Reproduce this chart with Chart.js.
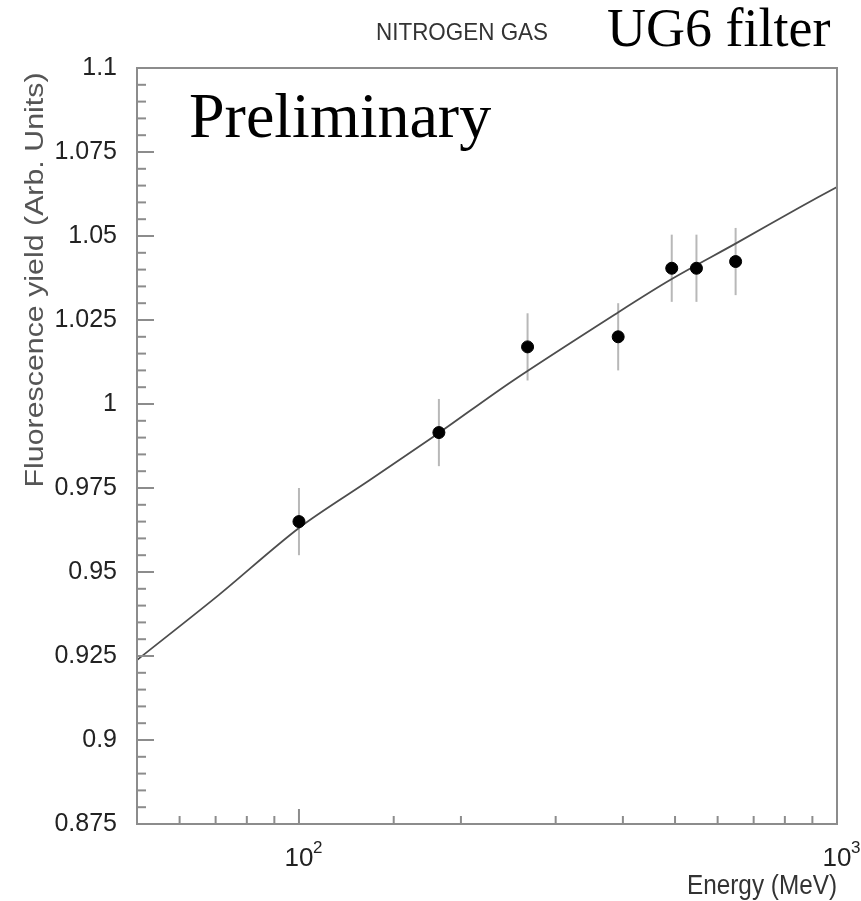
<!DOCTYPE html>
<html>
<head>
<meta charset="utf-8">
<title>Nitrogen gas fluorescence yield</title>
<script src="https://cdn.jsdelivr.net/npm/chart.js@4/dist/chart.umd.min.js"></script>
<style>
  html, body { margin: 0; padding: 0; background: #ffffff; }
  canvas { display: block; }
</style>
</head>
<body>
<canvas id="yieldChart" width="861" height="901"></canvas>
<script>
// ----------------- Data ---------------------------------------------------//
const energies  = [100, 182, 266, 392, 493, 548, 648];                    // MeV
const yields    = [0.965, 0.9915, 1.017, 1.020, 1.0404, 1.0404, 1.0424]; // Arb. units
const yieldErrs = [0.01, 0.01, 0.01, 0.01, 0.01, 0.01, 0.01];

// fitted curve, sampled along the line
const curveEnergies = [50, 71, 100, 135, 182, 249, 393, 493, 649, 850, 1000];
const curveYields   = [0.9238, 0.9432, 0.9631, 0.9772, 0.9914, 1.0068, 1.0274, 1.0372, 1.0478, 1.0584, 1.0646];

const xMajorTicks = [100, 1000];
const xTickLabels = ['2', '3'];   // exponents for 10^n
const yMin = 0.875, yMax = 1.1, yStep = 0.005, yMajorStep = 0.025;

const frameColor = '#8c8c8c';

// ----------------- Helpers -------------------------------------------------//
function isYMajor(v) {
  return Math.round(v * 1000) % Math.round(yMajorStep * 1000) === 0;
}

// draw text squeezed / stretched to a given width
function fitText(ctx, text, x, y, width, align) {
  const w = ctx.measureText(text).width;
  ctx.save();
  ctx.translate(x, y);
  ctx.scale(width / w, 1);
  ctx.textAlign = align;
  ctx.fillText(text, 0, 0);
  ctx.restore();
}

// ----------------- Custom drawing: frame, inner ticks, labels --------------//
const frameAndTicks = {
  id: 'frameAndTicks',
  beforeDatasetsDraw(chart) {
    const ctx = chart.ctx;
    const xs = chart.scales.x, ys = chart.scales.y;

    // error bars go under the markers
    ctx.save();
    ctx.strokeStyle = '#b8b8b8';
    ctx.lineWidth = 2;
    energies.forEach((e, i) => {
      const px = xs.getPixelForValue(e);
      ctx.beginPath();
      ctx.moveTo(px, ys.getPixelForValue(yields[i] - yieldErrs[i]));
      ctx.lineTo(px, ys.getPixelForValue(yields[i] + yieldErrs[i]));
      ctx.stroke();
    });
    ctx.restore();
  },
  afterDraw(chart) {
    const ctx = chart.ctx;
    const area = chart.chartArea;
    const xs = chart.scales.x, ys = chart.scales.y;

    ctx.save();
    ctx.strokeStyle = frameColor;
    ctx.lineWidth = 2;
    ctx.strokeRect(area.left, area.top, area.right - area.left, area.bottom - area.top);

    // y ticks pointing into the plot
    ys.ticks.forEach(t => {
      const py = ys.getPixelForValue(t.value);
      const len = isYMajor(t.value) ? 17 : 9;
      ctx.beginPath();
      ctx.moveTo(area.left, py);
      ctx.lineTo(area.left + len, py);
      ctx.stroke();
    });

    // x ticks pointing up
    xs.ticks.forEach(t => {
      const px = xs.getPixelForValue(t.value);
      const len = xMajorTicks.includes(t.value) ? 15 : 8;
      ctx.beginPath();
      ctx.moveTo(px, area.bottom);
      ctx.lineTo(px, area.bottom - len);
      ctx.stroke();
    });

    // x tick labels 10^2, 10^3
    ctx.fillStyle = '#222';
    ctx.textBaseline = 'alphabetic';
    xMajorTicks.forEach((v, i) => {
      const px = xs.getPixelForValue(v);
      ctx.font = '26px "Liberation Sans", Arial, sans-serif';
      ctx.textAlign = 'center';
      ctx.fillText('10', px, area.bottom + 42);
      ctx.font = '17px "Liberation Sans", Arial, sans-serif';
      ctx.textAlign = 'left';
      ctx.fillText(xTickLabels[i], px + 14, area.bottom + 29);
    });

    // x axis title
    ctx.fillStyle = '#333';
    ctx.font = '27px "Liberation Sans", Arial, sans-serif';
    fitText(ctx, 'Energy (MeV)', area.right, area.bottom + 70, 150, 'right');

    // y axis title, rotated
    ctx.save();
    ctx.translate(43, 280);
    ctx.rotate(-Math.PI / 2);
    ctx.fillStyle = '#555';
    ctx.font = '25px "Liberation Sans", Arial, sans-serif';
    fitText(ctx, 'Fluorescence yield (Arb. Units)', 0, 0, 415, 'center');
    ctx.restore();

    // headings
    ctx.fillStyle = '#333';
    ctx.font = '24px "Liberation Sans Narrow", "Liberation Sans", sans-serif';
    fitText(ctx, 'NITROGEN GAS', 462, 40, 172, 'center');

    ctx.fillStyle = '#000';
    ctx.font = '54px "Liberation Serif", "Times New Roman", serif';
    ctx.textAlign = 'left';
    ctx.fillText('UG6 filter', 607, 46);

    ctx.font = '64px "Liberation Serif", "Times New Roman", serif';
    ctx.fillText('Preliminary', 189, 137);
    ctx.restore();
  }
};

// ----------------- Build the chart -----------------------------------------//
const pointData = energies.map((e, i) => ({ x: e, y: yields[i] }));
const curveData = curveEnergies.map((e, i) => ({ x: e, y: curveYields[i] }));

const chartEl = document.getElementById('yieldChart');
const yieldChart = new Chart(chartEl, {
  type: 'scatter',
  data: {
    datasets: [
      {
        label: 'fit',
        data: curveData,
        showLine: true,
        borderColor: '#4d4d4d',
        borderWidth: 1.8,
        pointRadius: 0,
        tension: 0.3,
        order: 2
      },
      {
        label: 'data',
        data: pointData,
        pointRadius: 6,
        pointBackgroundColor: '#000',
        pointBorderColor: '#000',
        order: 1
      }
    ]
  },
  options: {
    responsive: false,
    animation: false,
    devicePixelRatio: 1,
    layout: { padding: { top: 68, bottom: 77, left: 0, right: 24 } },
    plugins: {
      legend: { display: false },
      tooltip: { enabled: false }
    },
    scales: {
      x: {
        type: 'logarithmic',
        min: 50,
        max: 1000,
        grid: { display: false },
        border: { display: false },
        ticks: { display: false },
        afterFit: (scale) => { scale.height = 0; }
      },
      y: {
        min: yMin,
        max: yMax,
        grid: { display: false, drawTicks: false },
        border: { display: false },
        ticks: {
          stepSize: yStep,
          autoSkip: false,
          padding: 20,
          color: '#222',
          font: { family: '"Liberation Sans", Arial, sans-serif', size: 25 },
          callback: (value) => {
            const v = Math.round(value * 1000) / 1000;
            return isYMajor(v) ? String(v) : '';
          }
        },
        afterFit: (scale) => { scale.width = 137; }
      }
    }
  },
  plugins: [frameAndTicks]
});
</script>
</body>
</html>
